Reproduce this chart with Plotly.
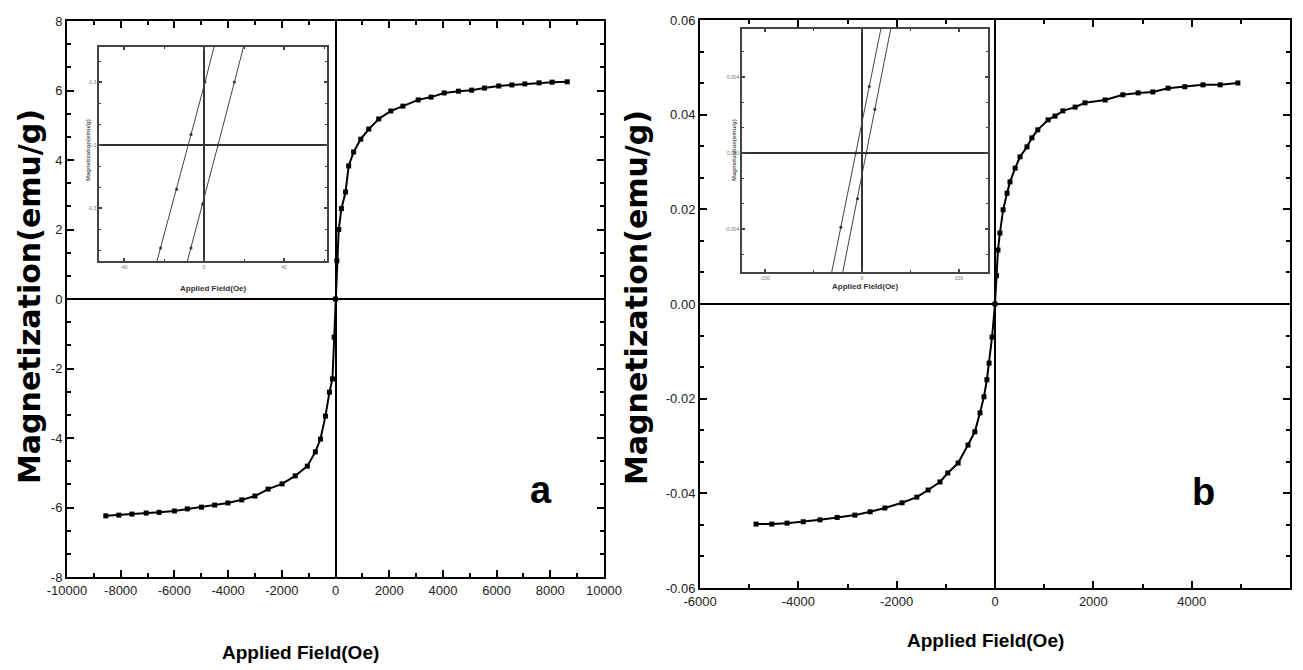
import plotly.graph_objects as go

# ---------------- data: panel a (main curve) ----------------
a_field_lower = [-8555, -8070, -7580, -7050, -6570, -6000, -5520, -4990, -4500, -4010, -3490,
                 -3000, -2510, -1990, -1500, -1050, -750, -560, -375, -225, -113, -50, 0]
a_mag_lower = [-6.24, -6.22, -6.19, -6.16, -6.14, -6.10, -6.04, -5.99, -5.93, -5.87, -5.78,
               -5.67, -5.47, -5.32, -5.09, -4.81, -4.40, -4.03, -3.37, -2.68, -2.30, -1.10, 0.0]
a_field_upper = [50, 120, 220, 375, 490, 675, 940, 1240, 1610, 2060, 2510, 3080, 3560, 4050,
                 4580, 5070, 5550, 6080, 6570, 7050, 7580, 8070, 8630]
a_mag_upper = [1.10, 2.00, 2.60, 3.08, 3.83, 4.23, 4.60, 4.89, 5.18, 5.41, 5.55, 5.73, 5.81, 5.93,
               5.98, 6.01, 6.07, 6.13, 6.16, 6.19, 6.22, 6.24, 6.25]

# ---------------- data: panel b (main curve) ----------------
b_field_lower = [-4860, -4540, -4230, -3900, -3560, -3210, -2850, -2540, -2240, -1890, -1590, -1360,
                 -1120, -960, -750, -550, -410, -305, -225, -165, -120, -60, 0]
b_mag_lower = [-0.0465, -0.0465, -0.0463, -0.0460, -0.0456, -0.0451, -0.0446, -0.0439, -0.0431,
               -0.0420, -0.0408, -0.0393, -0.0376, -0.0357, -0.0336, -0.0298, -0.0270, -0.0230,
               -0.0196, -0.0160, -0.0125, -0.0070, 0.0]
b_field_upper = [30, 60, 100, 165, 245, 305, 410, 510, 650, 750, 870, 1080, 1220, 1380, 1630, 1830,
                 2240, 2600, 2910, 3210, 3520, 3860, 4230, 4580, 4940]
b_mag_upper = [0.0060, 0.0114, 0.0150, 0.0199, 0.0234, 0.0258, 0.0287, 0.0311, 0.0332, 0.0351,
               0.0368, 0.0389, 0.0397, 0.0408, 0.0416, 0.0425, 0.0431, 0.0442, 0.0446, 0.0448,
               0.0456, 0.0459, 0.0463, 0.0463, 0.0467]

# ---------------- data: insets (low-field loop branches) ----------------
ia_field_1 = [-26, -21.7, -13.7, -6.5, 0.5, 7]
ia_mag_1 = [-0.64, -0.49, -0.21, 0.05, 0.30, 0.54]
ia_field_2 = [-11, -6.5, -0.7, 7, 15.2, 22]
ia_mag_2 = [-0.65, -0.49, -0.28, 0.0, 0.30, 0.55]

ib_field_1 = [-75, -43.3, -12.4, 15.1, 50]
ib_mag_1 = [-0.0079, -0.0039, 0.0, 0.0035, 0.0079]
ib_field_2 = [-55, -8.9, 9.3, 26.8, 70]
ib_mag_2 = [-0.0083, -0.0024, 0.0, 0.0023, 0.0079]

# ---------------- tick labels ----------------
a_xtick_vals = [-10000, -8000, -6000, -4000, -2000, 0, 2000, 4000, 6000, 8000, 10000]
a_xtick_text = ["-10000", "-8000", "-6000", "-4000", "-2000", "0", "2000", "4000", "6000", "8000", "10000"]
a_ytick_vals = [-8, -6, -4, -2, 0, 2, 4, 6, 8]
a_ytick_text = ["-8", "-6", "-4", "-2", "0", "2", "4", "6", "8"]
b_xtick_vals = [-6000, -4000, -2000, 0, 2000, 4000, 6000]
b_xtick_text = ["-6000", "-4000", "-2000", "0", "2000", "4000", "6000"]
b_ytick_vals = [-0.06, -0.04, -0.02, 0.0, 0.02, 0.04, 0.06]
b_ytick_text = ["-0.06", "-0.04", "-0.02", "0.00", "0.02", "0.04", "0.06"]
ia_xtick_vals, ia_xtick_text = [-40, 0, 40], ["-40", "0", "40"]
ia_ytick_vals, ia_ytick_text = [-0.3, 0, 0.3], ["-0.3", "0.0", "0.3"]
ib_xtick_vals, ib_xtick_text = [-200, 0, 200], ["-200", "0", "200"]
ib_ytick_vals, ib_ytick_text = [-0.004, 0, 0.004], ["-0.004", "0.000", "0.004"]

W, H = 1303, 670


def px(x0, x1):
    return [x0 / W, x1 / W]


def py(top, bottom):
    return [1 - bottom / H, 1 - top / H]


fig = go.Figure()

main_line = dict(color="black", width=2)
main_marker = dict(symbol="square", size=5, color="black")
fig.add_trace(go.Scatter(x=a_field_lower + a_field_upper, y=a_mag_lower + a_mag_upper,
                         mode="lines+markers", line=main_line, marker=main_marker,
                         xaxis="x", yaxis="y", showlegend=False))
fig.add_trace(go.Scatter(x=b_field_lower + b_field_upper, y=b_mag_lower + b_mag_upper,
                         mode="lines+markers", line=main_line, marker=main_marker,
                         xaxis="x2", yaxis="y2", showlegend=False))

ins_line = dict(color="#444", width=1)
ins_marker = dict(symbol="circle", size=3, color="#333")
for xs, ys in [(ia_field_1, ia_mag_1), (ia_field_2, ia_mag_2)]:
    fig.add_trace(go.Scatter(x=xs, y=ys, mode="lines+markers", line=ins_line, marker=ins_marker,
                             xaxis="x3", yaxis="y3", showlegend=False, cliponaxis=True))
for xs, ys in [(ib_field_1, ib_mag_1), (ib_field_2, ib_mag_2)]:
    fig.add_trace(go.Scatter(x=xs, y=ys, mode="lines+markers", line=ins_line, marker=ins_marker,
                             xaxis="x4", yaxis="y4", showlegend=False, cliponaxis=True))

tick_font = dict(family="Liberation Sans, Arial", size=13, color="#222")


def main_axis(domain, rng, vals, text, minor, anchor):
    return dict(domain=domain, range=rng, tickvals=vals, ticktext=text, showline=True, linewidth=2,
                linecolor="black", mirror="ticks", ticks="inside", ticklen=7, tickwidth=2,
                tickcolor="black", minor=dict(dtick=minor, tick0=0, ticks="inside", ticklen=4,
                                              tickwidth=1.5, tickcolor="black"),
                showgrid=False, zeroline=True, zerolinecolor="black", zerolinewidth=2,
                tickfont=tick_font, anchor=anchor, fixedrange=True)


def inset_axis(domain, rng, vals, text, minor, anchor):
    return dict(domain=domain, range=rng, tickvals=vals, ticktext=text, showline=True,
                linewidth=1.5, linecolor="#444", mirror="ticks", ticks="inside", ticklen=3,
                tickwidth=1.5, tickcolor="#444",
                minor=dict(dtick=minor, tick0=0, ticks="inside", ticklen=2, tickwidth=1, tickcolor="#444"),
                showgrid=False, zeroline=True, zerolinecolor="#333", zerolinewidth=1.5,
                tickfont=dict(family="Liberation Sans", size=5, color="#777"), anchor=anchor,
                fixedrange=True)


fig.update_layout(
    width=W, height=H, autosize=False,
    margin=dict(l=0, r=0, t=0, b=0, autoexpand=False),
    paper_bgcolor="white", plot_bgcolor="white",
    xaxis=main_axis(px(67, 604), [-10000, 10000], a_xtick_vals, a_xtick_text, 1000, "y"),
    yaxis=main_axis(py(21, 577), [-8, 8], a_ytick_vals, a_ytick_text, 2 / 3, "x"),
    xaxis2=main_axis(px(700, 1290), [-6000, 6000], b_xtick_vals, b_xtick_text, 1000, "y2"),
    yaxis2=main_axis(py(20, 588), [-0.06, 0.06], b_ytick_vals, b_ytick_text, 0.02 / 3, "x2"),
    xaxis3=inset_axis(px(99, 327), [-52.5, 61.5], ia_xtick_vals, ia_xtick_text, 20, "y3"),
    yaxis3=inset_axis(py(47, 261), [-0.552, 0.467], ia_ytick_vals, ia_ytick_text, 0.1, "x3"),
    xaxis4=inset_axis(px(742, 988), [-247, 260], ib_xtick_vals, ib_xtick_text, 100, "y4"),
    yaxis4=inset_axis(py(29, 272), [-0.00626, 0.00653], ib_ytick_vals, ib_ytick_text, 0.004 / 3, "x4"),
)

title_v = dict(family="DejaVu Sans, Liberation Sans", size=30, color="black")
title_h = dict(family="Liberation Sans, Arial", size=19, color="black")
ins_v = dict(family="Liberation Sans", size=6, color="#555")
ins_h = dict(family="Liberation Sans, Arial", size=8, color="#333")
letter = dict(family="Liberation Sans, Arial", size=38, color="black")

ann = [
    dict(x=29 / W, y=1 - 297 / H, text="<b>Magnetization(emu/g)</b>", textangle=-90, font=title_v),
    dict(x=636 / W, y=1 - 298 / H, text="<b>Magnetization(emu/g)</b>", textangle=-90, font=title_v),
    dict(x=300 / W, y=1 - 652 / H, text="<b>Applied Field(Oe)</b>", font=title_h),
    dict(x=985 / W, y=1 - 640 / H, text="<b>Applied Field(Oe)</b>", font=title_h),
    dict(x=541 / W, y=1 - 490 / H, text="<b>a</b>", font=letter),
    dict(x=1203 / W, y=1 - 492 / H, text="<b>b</b>", font=letter),
    dict(x=88 / W, y=1 - 150 / H, text="<b>Magnetization(emu/g)</b>", textangle=-90, font=ins_v),
    dict(x=213 / W, y=1 - 288 / H, text="<b>Applied Field(Oe)</b>", font=ins_h),
    dict(x=734 / W, y=1 - 150 / H, text="<b>Magnetization(emu/g)</b>", textangle=-90, font=ins_v),
    dict(x=865 / W, y=1 - 287 / H, text="<b>Applied Field(Oe)</b>", font=ins_h),
]
fig.update_layout(annotations=[dict(a, xref="paper", yref="paper", showarrow=False,
                                    xanchor="center", yanchor="middle") for a in ann])

fig.write_html("out.html", config={"displayModeBar": False},
               post_script="document.body.style.margin='0';")
